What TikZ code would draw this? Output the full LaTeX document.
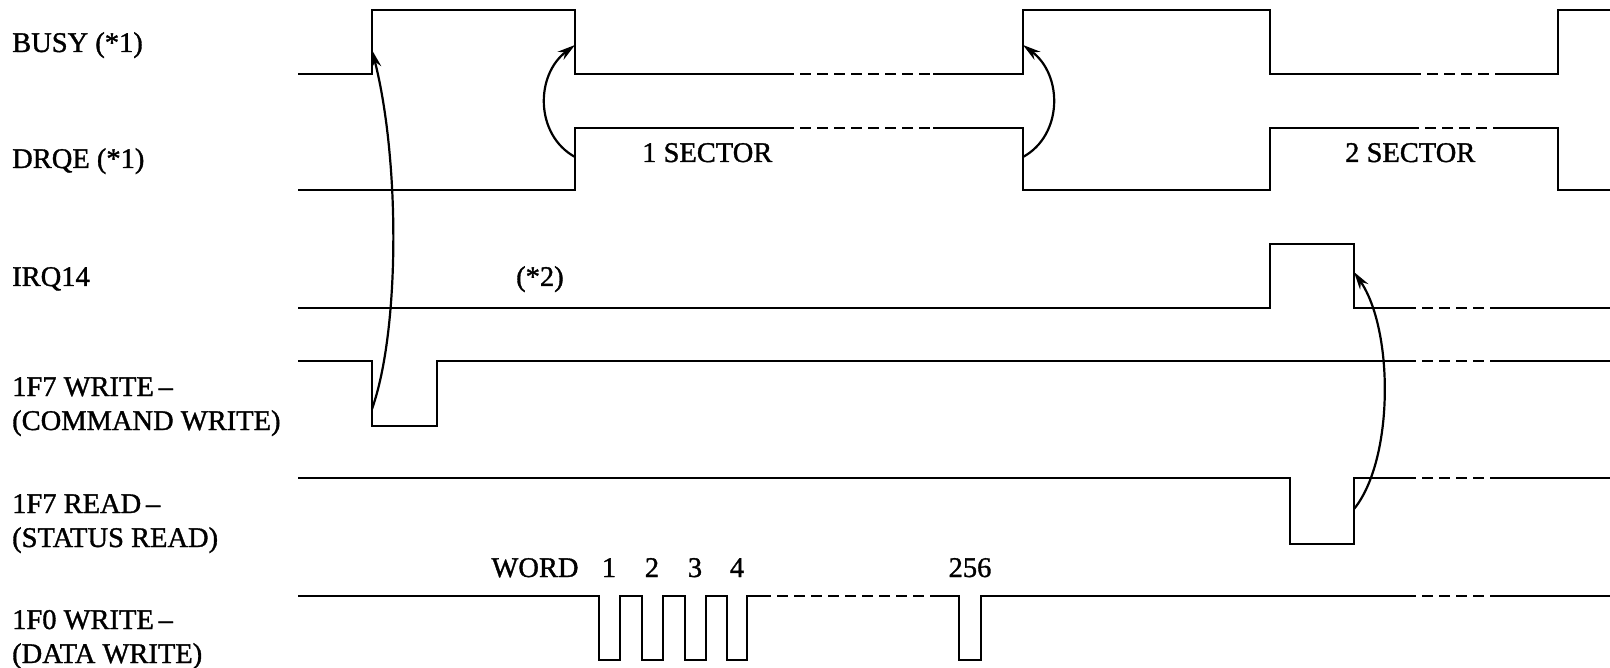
\documentclass[tikz,border=0pt]{standalone}
\usepackage{fontspec}
\setmainfont{Liberation Serif}[FakeBold=1.2]
\usetikzlibrary{arrows.meta}
\begin{document}
\begin{tikzpicture}[x=1pt,y=-1pt,
  sig/.style={line width=2.8pt, line join=miter},
  dsh/.style={line width=2.8pt, dash pattern=on 11pt off 6pt},
  lbl/.style={inner sep=0pt, anchor=base west, font=\fontsize{28.5}{33}\selectfont},
  num/.style={inner sep=0pt, anchor=base, font=\fontsize{28.5}{33}\selectfont},
  cause/.style={line width=2.2pt, -{Stealth[length=18pt,width=10pt]}}]
\useasboundingbox (0,0) rectangle (1610,668);

% ---------- labels ----------
\node[lbl] (lbusy) at (12,52) {BUSY (*1)};
\node[lbl] (ldrqe) at (12,168) {DRQE (*1)};
\node[lbl] (lirq)  at (12,286) {IRQ14};
\node[lbl] (lw1)   at (12,396) {1F7 WRITE\,--};
\node[lbl] (lw2)   at (12,430) {(COMMAND WRITE)};
\node[lbl] (lr1)   at (12,513) {1F7 READ\,--};
\node[lbl] (lr2)   at (12,547) {(STATUS READ)};
\node[lbl] (ld1)   at (12,629) {1F0 WRITE\,--};
\node[lbl] (ld2)   at (12,663) {(DATA WRITE)};

\node[lbl] (sec1) at (642,162) {1 SECTOR};
\node[lbl] (sec2) at (1345,162) {2 SECTOR};
\node[lbl] (note2) at (516,286) {(*2)};
\node[num] (word) at (535,577) {WORD};
\node[num] (w1) at (609,577) {1};
\node[num] (w2) at (652,577) {2};
\node[num] (w3) at (695,577) {3};
\node[num] (w4) at (737,577) {4};
\node[num] (w256) at (970,577) {256};

% ---------- BUSY ----------
\draw[sig] (298,74) -- (372,74) -- (372,10) -- (575,10) -- (575,74) -- (783,74);
\draw[dsh] (783,74) -- (933,74);
\draw[sig] (933,74) -- (1023,74) -- (1023,10) -- (1270,10) -- (1270,74) -- (1410,74);
\draw[dsh] (1410,74) -- (1502,74);
\draw[sig] (1502,74) -- (1558,74) -- (1558,10) -- (1612,10);

% ---------- DRQE ----------
\draw[sig] (298,190) -- (575,190) -- (575,128) -- (783,128);
\draw[dsh] (783,128) -- (933,128);
\draw[sig] (933,128) -- (1023,128) -- (1023,190) -- (1270,190) -- (1270,128) -- (1408,128);
\draw[dsh] (1408,128) -- (1500,128);
\draw[sig] (1500,128) -- (1558,128) -- (1558,190) -- (1612,190);

% ---------- IRQ14 ----------
\draw[sig] (298,308) -- (1270,308) -- (1270,244) -- (1354,244) -- (1354,308) -- (1405,308);
\draw[dsh] (1405,308) -- (1492,308);
\draw[sig] (1492,308) -- (1612,308);

% ---------- 1F7 WRITE ----------
\draw[sig] (298,361) -- (372,361) -- (372,426) -- (437,426) -- (437,361) -- (1405,361);
\draw[dsh] (1405,361) -- (1492,361);
\draw[sig] (1492,361) -- (1612,361);

% ---------- 1F7 READ ----------
\draw[sig] (298,478) -- (1290,478) -- (1290,544) -- (1354,544) -- (1354,478) -- (1405,478);
\draw[dsh] (1405,478) -- (1492,478);
\draw[sig] (1492,478) -- (1612,478);

% ---------- 1F0 WRITE ----------
\draw[sig] (298,596) -- (599,596) -- (599,660) -- (620,660) -- (620,596)
  -- (642,596) -- (642,660) -- (663,660) -- (663,596)
  -- (685,596) -- (685,660) -- (706,660) -- (706,596)
  -- (727,596) -- (727,660) -- (747,660) -- (747,596) -- (760,596);
\draw[dsh] (760,596) -- (935,596);
\draw[sig] (935,596) -- (959,596) -- (959,660) -- (981,660) -- (981,596) -- (1405,596);
\draw[dsh] (1405,596) -- (1492,596);
\draw[sig] (1492,596) -- (1612,596);

% ---------- cause arrows ----------
\coordinate (a1s) at (372,409);
\coordinate (a1e) at (372,50);
\coordinate (a2s) at (575,157);
\coordinate (a2e) at (575,45);
\coordinate (a3s) at (1023,157);
\coordinate (a3e) at (1023,45);
\coordinate (a4s) at (1354,509);
\coordinate (a4e) at (1354,272);

\draw[cause] (a1s) .. controls (400,330) and (400,160) .. (a1e);
\draw[cause] (a2s) .. controls (535,135) and (535,75) .. (a2e);
\draw[cause] (a3s) .. controls (1063,135) and (1063,75) .. (a3e);
\draw[cause] (a4s) .. controls (1394,460) and (1394,330) .. (a4e);
\end{tikzpicture}
\end{document}
